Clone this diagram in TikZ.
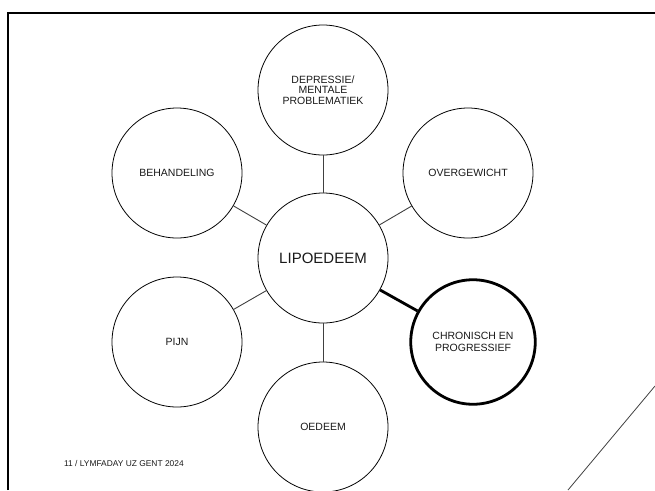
\documentclass[tikz,border=0pt]{standalone}
\usepackage{fontspec}
\setmainfont{Liberation Sans}
\begin{document}
\begin{tikzpicture}[x=1pt, y=-1pt, every node/.style={inner sep=0, text=black!90},
    topic/.style={circle, draw, line width=0.8pt, minimum size=130pt, align=center, font=\fontsize{10.5}{10.5}\selectfont},
    hub/.style={topic, font=\fontsize{15}{15}\selectfont},
    focus/.style={topic, line width=2.8pt, minimum size=124.5pt, font=\fontsize{10.5}{12.5}\selectfont},
    link/.style={draw=black!75, line width=0.9pt}]
    \useasboundingbox (0,0) rectangle (655,490);

    \draw[line width=2pt] (8,490) -- (8,12.5) -- (655,12.5);
    \draw[line width=0.8pt, black!75] (568,490) -- (655,386);

    \draw(323,258) node [hub](lipo){LIPOEDEEM};

    \draw(323,90) node [topic](depr){DEPRESSIE/\\MENTALE\\PROBLEMATIEK};
    \draw(468,173) node [topic](gew){OVERGEWICHT};
    \draw(177,173) node [topic](beh){BEHANDELING};
    \draw(177,342) node [topic](pijn){PIJN};
    \draw(323,427) node [topic](oed){OEDEEM};
    \draw(473,342) node [focus](chron){CHRONISCH EN\\PROGRESSIEF};

    \draw[link] (depr) -- (lipo);
    \draw[link] (gew) -- (lipo);
    \draw[link] (beh) -- (lipo);
    \draw[link] (pijn) -- (lipo);
    \draw[link] (oed) -- (lipo);
    \draw[link, draw=black, line width=2.8pt] (lipo) -- (chron);

    \draw(64,463) node [anchor=west, font=\fontsize{8.4}{8.4}\selectfont](footer){11~/ LYMFADAY UZ GENT 2024};
\end{tikzpicture}
\end{document}
